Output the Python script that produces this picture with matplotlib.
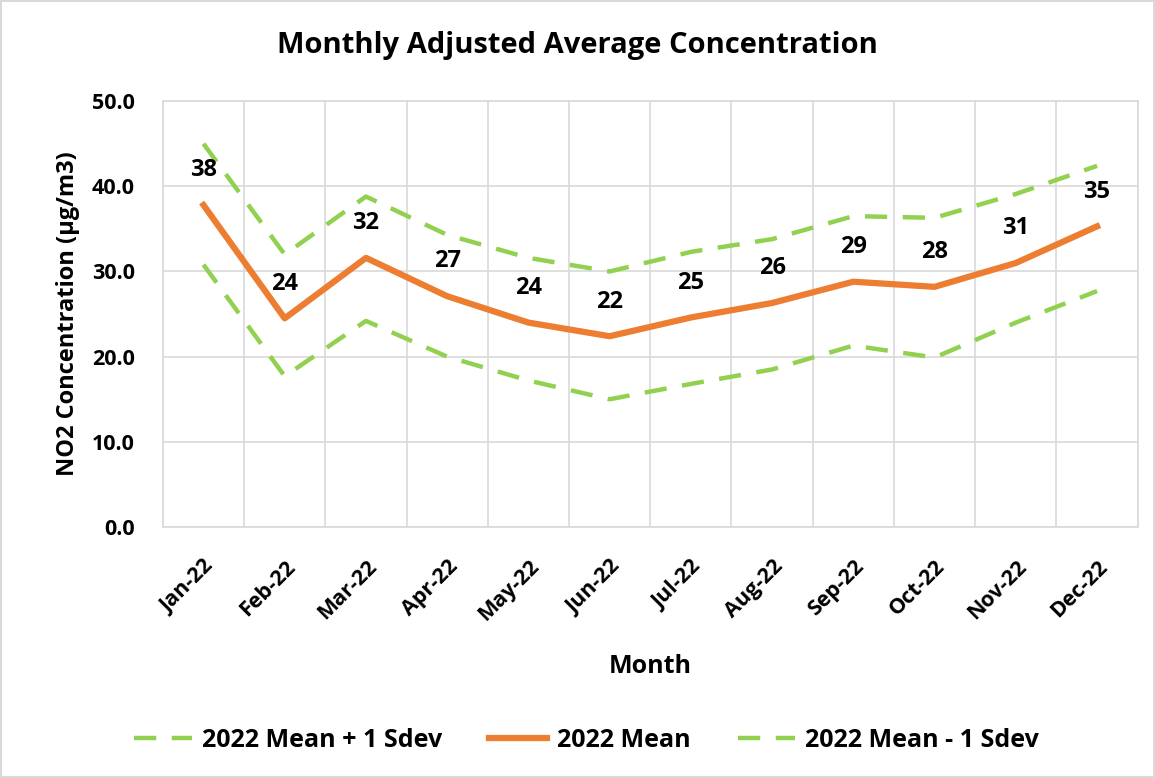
import matplotlib.pyplot as plt
import numpy as np

months = ["Jan-22", "Feb-22", "Mar-22", "Apr-22", "May-22", "Jun-22",
          "Jul-22", "Aug-22", "Sep-22", "Oct-22", "Nov-22", "Dec-22"]
mean_2022 = [37.8, 24.5, 31.6, 27.1, 24.0, 22.4, 24.6, 26.3, 28.8, 28.2, 31.0, 35.3]
upper_2022 = [45.0, 32.0, 38.8, 34.3, 31.6, 30.0, 32.3, 33.8, 36.5, 36.3, 39.1, 42.4]
lower_2022 = [30.8, 17.7, 24.2, 20.0, 17.2, 15.0, 16.8, 18.5, 21.3, 19.9, 24.0, 27.7]

plt.rcParams['font.family'] = ['Open Sans', 'DejaVu Sans']
plt.rcParams['font.weight'] = 'bold'

green = "#92D050"
orange = "#ED7D31"
grid_c = "#D9D9D9"

fig = plt.figure(figsize=(11.55, 7.78), dpi=100)
fig.patch.set_edgecolor(grid_c)
fig.patch.set_linewidth(1.5)
ax = fig.add_axes([0.141, 0.3226, 0.844, 0.5474])

x = np.arange(len(months))
ax.plot(x, upper_2022, color=green, lw=3.2, dashes=(5, 3.5), label="2022 Mean + 1 Sdev")
ax.plot(x, mean_2022, color=orange, lw=4.5, label="2022 Mean")
ax.plot(x, lower_2022, color=green, lw=3.2, dashes=(5, 3.5), label="2022 Mean - 1 Sdev")

# data labels above the mean line
for xi, v in zip(x, mean_2022):
    ax.annotate(f"{v:.0f}", (xi, v), xytext=(0, 25), textcoords="offset points",
                ha="center", va="center", fontsize=17, fontweight="bold")

ax.set_xlim(-0.5, len(months) - 0.5)
ax.set_ylim(0, 50)
ax.set_yticks(np.arange(0, 51, 10))
ax.set_yticklabels([f"{t:.1f}" for t in np.arange(0, 51, 10)], fontsize=15.5, fontweight="bold")
ax.set_xticks(x)
ax.set_xticklabels(months, rotation=45, ha="right", rotation_mode="anchor",
                   fontsize=15.5, fontweight="bold")
ax.set_xticks(np.arange(-0.5, len(months)), minor=True)
ax.tick_params(axis="x", which="major", length=0, pad=21)
ax.tick_params(axis="x", which="minor", length=0)
ax.tick_params(axis="y", length=0, pad=20)
ax.grid(which="minor", axis="x", color=grid_c, lw=1.2)
ax.grid(which="major", axis="y", color=grid_c, lw=1.2)
for s in ax.spines.values():
    s.set_color(grid_c)
    s.set_linewidth(1.2)

ax.set_xlabel("Month", fontsize=18, fontweight="bold", labelpad=21)
ax.set_ylabel("NO2 Concentration (µg/m3)", fontsize=17, fontweight="bold", labelpad=9)
fig.text(0.5, 0.941, "Monthly Adjusted Average Concentration", ha="center", va="center",
         fontsize=21, fontweight="bold")

fig.legend(loc="center", bbox_to_anchor=(0.508, 0.048), ncol=3, frameon=False,
           fontsize=18, handlelength=2.3, columnspacing=1.9, handletextpad=0.4)

fig.savefig("out.png", dpi=100)
